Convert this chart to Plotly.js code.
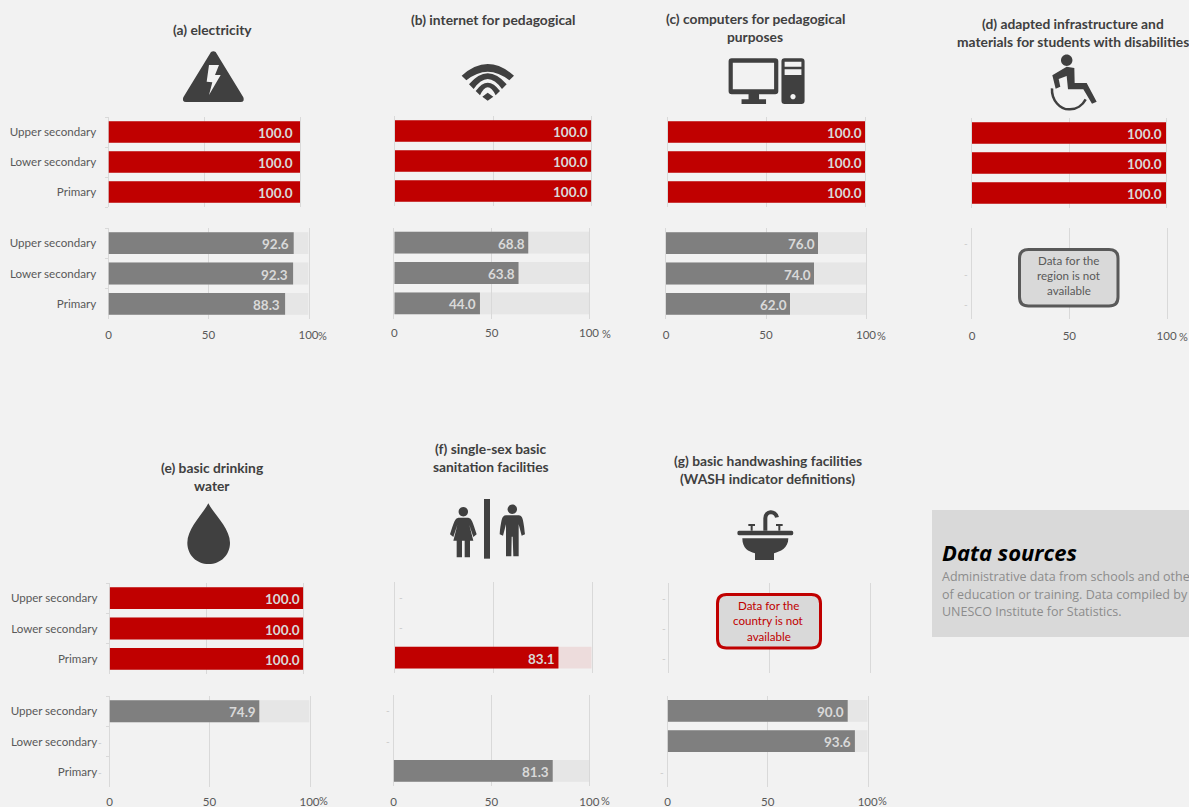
<!DOCTYPE html>
<html>
<head>
<meta charset="utf-8">
<script src="https://cdn.plot.ly/plotly-3.0.1.min.js"></script>
<style>html,body{margin:0;padding:0;background:#f2f2f2;overflow:hidden}#chart{width:1189px;height:807px}</style>
</head>
<body>
<div id="chart"></div>
<script>
const levels = ['Primary', 'Lower secondary', 'Upper secondary'];
const xTicks = [0, 50, 100];

const electricityCountry = [100, 100, 100];
const electricityRegion = [88.3, 92.3, 92.6];
const internetCountry = [100, 100, 100];
const internetRegion = [44.0, 63.8, 68.8];
const computersCountry = [100, 100, 100];
const computersRegion = [62.0, 74.0, 76.0];
const adaptedCountry = [100, 100, 100];
const adaptedRegion = [null, null, null];
const waterCountry = [100, 100, 100];
const waterRegion = [null, null, 74.9];
const sanitationCountry = [83.1, null, null];
const sanitationRegion = [81.3, null, null];
const handwashingCountry = [null, null, null];
const handwashingRegion = [null, 93.6, 90.0];

const titleA = ['(a) electricity'];
const titleB = ['(b) internet for pedagogical'];
const titleC = ['(c) computers for pedagogical', 'purposes'];
const titleD = ['(d) adapted infrastructure and', 'materials for students with disabilities'];
const titleE = ['(e) basic drinking', 'water'];
const titleF = ['(f) single-sex basic', 'sanitation facilities'];
const titleG = ['(g) basic handwashing facilities', '(WASH indicator definitions)'];
const noRegion = ['Data for the', 'region is not', 'available'];
const noCountry = ['Data for the', 'country is not', 'available'];
const sourcesHead = 'Data sources';
const sourcesBody = ['Administrative data from schools and other', 'of education or training. Data compiled by', 'UNESCO Institute for Statistics.'];

const W = 1189, H = 807;
const RED = '#c00000', GREY = '#7f7f7f', DARK = '#404040', GRID = '#d9d9d9', TXT = '#595959';
const FONT = 'Lato, sans-serif';

const panels = [
  {v: electricityCountry, c: RED, x: [108.5, 300], y: [117, 207], labels: true, shift: -7},
  {v: electricityRegion, c: GREY, x: [108.5, 308.5], y: [228, 319], labels: true, axis: true, std: 7, pct: [322, 335], shift: -5},
  {v: internetCountry, c: RED, x: [395, 591.3], y: [116, 206]},
  {v: internetRegion, c: GREY, x: [394.3, 589], y: [227.5, 318.5], axis: true, std: 6, pct: [606, 333]},
  {v: computersCountry, c: RED, x: [668, 865], y: [117, 207]},
  {v: computersRegion, c: GREY, x: [666, 866], y: [228, 319], axis: true, std: 7, pct: [881, 335]},
  {v: adaptedCountry, c: RED, x: [972, 1166], y: [118, 208], shift: -4.5},
  {v: adaptedRegion, c: GREY, x: [972, 1166.6], y: [228, 319], axis: true, std: 8, pct: [1183, 336], dashes: [[0, -6], [1, -6], [2, -6]]},
  {v: waterCountry, c: RED, x: [109.7, 303.3], y: [583, 674], labels: true},
  {v: waterRegion, c: GREY, x: [109.5, 309.5], y: [696, 787.3], labels: true, axis: true, std: 6, pct: [323, 800.5], dashes: [[0, -10], [1, -10]]},
  {v: sanitationCountry, c: RED, bg: 'rgba(192,0,0,0.09)', x: [395, 591.7], y: [582, 672.7], dashes: [[1, 6], [2, 6]]},
  {v: sanitationRegion, c: GREY, x: [393.7, 589.3], y: [695, 786], axis: true, std: 7, pct: [605, 800.5], dashes: [[1, -6], [2, -6]]},
  {v: handwashingCountry, c: RED, x: [669.3, 870], y: [582.7, 673.3], dashes: [[0, -5], [1, -5], [2, -5]]},
  {v: handwashingRegion, c: GREY, x: [667.7, 867.7], y: [695.7, 786.7], axis: true, std: 7, pct: [882, 800.5], dashes: [[0, -6]]}
];

// page-pixel overlay axes, used for titles, pictograms and note boxes
const PX = 15;
const data = [{type: 'scatter', x: [], y: [], xaxis: 'x' + PX, yaxis: 'y' + PX, showlegend: false, hoverinfo: 'skip'}];
const layout = {
  width: W, height: H, margin: {l: 0, r: 0, t: 0, b: 0},
  paper_bgcolor: '#f2f2f2', plot_bgcolor: 'rgba(0,0,0,0)',
  barmode: 'overlay', bargap: 0.28, showlegend: false,
  font: {family: FONT, color: TXT},
  annotations: [], shapes: [],
  ['xaxis' + PX]: {domain: [0, 1], range: [0, W], visible: false, anchor: 'y' + PX, fixedrange: true},
  ['yaxis' + PX]: {domain: [0, 1], range: [H, 0], visible: false, anchor: 'x' + PX, fixedrange: true}
};

panels.forEach((p, i) => {
  const n = i + 1, xa = 'x' + n, ya = 'y' + n;
  const present = p.v.map(v => (v === null ? null : 100));
  data.push({type: 'bar', orientation: 'h', y: levels, x: present, xaxis: xa, yaxis: ya,
    marker: {color: p.bg || 'rgba(217,217,217,0.5)'}, hoverinfo: 'skip'});
  data.push({type: 'bar', orientation: 'h', y: levels, x: p.v, xaxis: xa, yaxis: ya,
    marker: {color: p.c}, hoverinfo: 'skip'});
  layout['xaxis' + n] = {
    domain: [p.x[0] / W, p.x[1] / W], range: [0, 100], anchor: ya, fixedrange: true,
    tickmode: 'array', tickvals: xTicks, ticktext: xTicks.map(String),
    showgrid: true, gridcolor: GRID, gridwidth: 1, zeroline: false, showline: false, ticks: '',
    showticklabels: !!p.axis, ticklabelstandoff: p.std || 0,
    tickfont: {family: FONT, size: 11.5, color: TXT}
  };
  layout['yaxis' + n] = {
    domain: [1 - p.y[1] / H, 1 - p.y[0] / H], range: [-0.5, 2.5], anchor: xa, fixedrange: true,
    type: 'category', categoryorder: 'array', categoryarray: levels,
    showgrid: false, zeroline: false, layer: 'below traces',
    showline: true, mirror: true, linecolor: GRID, linewidth: 1,
    ticks: p.labels ? 'outside' : '', tickson: 'boundaries', ticklen: 3, tickcolor: GRID, tickwidth: 1,
    showticklabels: !!p.labels, ticklabelstandoff: 9,
    tickfont: {family: FONT, size: 11.6, color: TXT}
  };
  p.v.forEach((v, k) => {
    if (v === null) return;
    layout.annotations.push({xref: xa, yref: ya, x: v, y: levels[k], text: v.toFixed(1),
      xanchor: 'right', yanchor: 'middle', xshift: (p.shift || -3.5) + 2, yshift: -1, showarrow: false,
      font: {family: FONT, size: 13.5, color: '#d9d9d9', weight: 700}});
  });
  (p.dashes || []).forEach(d => {
    layout.annotations.push({xref: xa, yref: ya, x: 0, y: levels[d[0]], text: '-',
      xanchor: 'center', yanchor: 'middle', xshift: d[1], showarrow: false,
      font: {family: FONT, size: 10, color: '#c8c8c8'}});
  });
  if (p.pct) pageText('%', p.pct[0], p.pct[1], {size: 11, color: TXT});
});

function pageText(t, x, y, f, anchor) {
  layout.annotations.push({xref: 'x' + PX, yref: 'y' + PX, x: x, y: y, text: t,
    xanchor: anchor || 'center', yanchor: 'middle', showarrow: false, borderpad: 0, borderwidth: 0,
    font: Object.assign({family: FONT}, f)});
}
function lines(arr, x, ys, f) { arr.forEach((t, i) => pageText(t, x, ys[i], f)); }

const titleFont = {size: 13.8, color: DARK, weight: 700};
lines(titleA, 212.5, [29.5], titleFont);
lines(titleB, 493, [19.5], titleFont);
lines(titleC, 755, [18, 36], titleFont);
lines(titleD, 1072.5, [23, 41], titleFont);
lines(titleE, 212, [467, 485], titleFont);
lines(titleF, 491, [448, 466], titleFont);
lines(titleG, 767.5, [460, 478], titleFont);

// pictograms: path points written in a local grid, mapped to page pixels
function icon(ox, oy, sx, sy, d) {
  const pts = d.trim().split(/\s+/);
  let isX = true;
  return pts.map(t => {
    if (/^[A-Za-z]$/.test(t)) { isX = true; return t; }
    const v = isX ? ox + parseFloat(t) / sx : oy + parseFloat(t) / sy;
    isX = !isX;
    return v.toFixed(2);
  }).join(' ');
}
function circle(cx, cy, r) {
  const k = 0.5523 * r;
  return `M ${cx - r} ${cy} C ${cx - r} ${cy - k} ${cx - k} ${cy - r} ${cx} ${cy - r} C ${cx + k} ${cy - r} ${cx + r} ${cy - k} ${cx + r} ${cy} C ${cx + r} ${cy + k} ${cx + k} ${cy + r} ${cx} ${cy + r} C ${cx - k} ${cy + r} ${cx - r} ${cy + k} ${cx - r} ${cy} Z`;
}
function addPath(d, fill, line, lw) {
  layout.shapes.push({type: 'path', xref: 'x' + PX, yref: 'y' + PX, path: d, layer: 'above',
    fillcolor: fill || 'rgba(0,0,0,0)', line: {color: line || 'rgba(0,0,0,0)', width: lw || 0}});
}
// lightning triangle
addPath(icon(150, 40, 3, 3, 'M 183 36 Q 190 31 197 36 L 280 172 Q 285 186 272 186 L 108 186 Q 95 186 100 172 Z M 177 75 L 207 75 L 195 105 L 212 105 L 177 165 L 187 127 L 170 125 Z'), DARK);
// wifi
addPath(icon(455, 55, 3, 3,
  'M 20 62 Q 98 -8 177 62 L 163 76 Q 98 24 34 76 Z ' +
  'M 42 88 Q 98 22 155 88 L 141 102 Q 98 42 56 102 Z ' +
  'M 62 108 Q 98 58 135 108 L 122 121 Q 98 73 75 121 Z ' +
  'M 98 113 L 115 125 L 98 137 L 82 125 Z'), DARK);
// computer
addPath(icon(640, 0, 2.856, 3,
  'M 262 175 L 386 175 Q 395 175 395 184 L 395 274 Q 395 283 386 283 L 340 283 L 340 298 L 360 298 L 360 312 L 290 312 L 290 298 L 310 298 L 310 283 L 262 283 Q 253 283 253 274 L 253 184 Q 253 175 262 175 Z ' +
  'M 265 188 L 265 268 L 383 268 L 383 188 Z'), DARK);
addPath(icon(640, 0, 2.856, 3,
  'M 413 175 L 461 175 Q 470 175 470 184 L 470 303 Q 470 312 461 312 L 413 312 Q 404 312 404 303 L 404 184 Q 404 175 413 175 Z ' +
  'M 413 185 L 413 200 L 461 200 L 461 185 Z M 413 208 L 413 225 L 461 225 L 461 208 Z'), DARK);
addPath(circle(793, 96.7, 2.6), '#f2f2f2');
// wheelchair
addPath(circle(1066.7, 60.3, 5.7), DARK);
addPath(icon(1040, 50, 3, 3, 'M 37 76 L 80 50 L 103 54 L 104 99 L 140 99 L 170 155 L 156 161 L 130 118 L 84 118 L 80 78 L 56 87 L 61 110 L 47 116 Z'), DARK);
addPath(icon(1040, 50, 3, 3, 'M 36 115 C 34 150 60 180 90 178 C 110 178 128 165 137 148'), null, DARK, 2.5);
// drop
addPath(icon(175, 495, 3, 3, 'M 100 25 C 85 55 37 100 37 143 C 37 180 65 207 101 207 C 137 207 165 180 165 143 C 165 100 115 55 100 25 Z'), DARK);
// restroom
addPath(icon(440, 495, 3, 3, 'M 132 12 L 150 12 L 150 191 L 132 191 Z'), DARK);
addPath(circle(463.3, 511.7, 4.7), DARK);
addPath(icon(440, 495, 3, 3, 'M 55 68 L 85 68 C 95 70 98 80 110 118 L 100 126 L 88 90 L 100 137 L 90 137 L 90 187 L 74 187 L 74 137 L 66 137 L 66 187 L 50 187 L 50 137 L 40 137 L 52 90 L 40 126 L 30 118 C 42 80 45 70 55 68 Z'), DARK);
addPath(circle(512.3, 509.3, 4.7), DARK);
addPath(icon(440, 495, 3, 3, 'M 197 61 L 237 61 C 247 63 250 70 255 118 L 245 122 L 236 88 L 236 184 L 220 184 L 218 125 L 215 125 L 214 184 L 198 184 L 198 88 L 189 122 L 179 118 C 184 70 187 63 197 61 Z'), DARK);
// sink
addPath(icon(730, 500, 3, 3,
  'M 27 92 L 185 92 Q 190 92 190 99 Q 190 106 185 106 L 27 106 Q 22 106 22 99 Q 22 92 27 92 Z ' +
  'M 37 115 L 175 115 C 175 145 150 155 132 160 L 132 180 L 75 180 L 75 160 C 55 155 37 145 37 115 Z'), DARK);
addPath(icon(730, 500, 3, 3, 'M 106 92 L 106 55 C 106 32 136 30 141 52'), null, DARK, 4);
addPath(icon(730, 500, 3, 3, 'M 55 72 L 75 72 L 75 78 L 68 78 L 68 92 L 62 92 L 62 78 L 55 78 Z M 138 72 L 158 72 L 158 78 L 151 78 L 151 92 L 145 92 L 145 78 L 138 78 Z'), DARK);

// note boxes
function roundBox(x0, y0, x1, y1, r, line) {
  const d = `M ${x0 + r} ${y0} L ${x1 - r} ${y0} Q ${x1} ${y0} ${x1} ${y0 + r} L ${x1} ${y1 - r} Q ${x1} ${y1} ${x1 - r} ${y1} L ${x0 + r} ${y1} Q ${x0} ${y1} ${x0} ${y1 - r} L ${x0} ${y0 + r} Q ${x0} ${y0} ${x0 + r} ${y0} Z`;
  addPath(d, '#d9d9d9', line, 3);
}
roundBox(1019.5, 249.5, 1118, 306, 9, TXT);
lines(noRegion, 1068.5, [260.5, 275.5, 290.5], {size: 11.6, color: TXT});
roundBox(717.5, 594.5, 820.5, 648, 9, RED);
lines(noCountry, 768.5, [605.5, 620.5, 636.5], {size: 11.6, color: RED});

// data sources box
layout.shapes.push({type: 'rect', xref: 'x' + PX, yref: 'y' + PX, x0: 932, x1: 1189, y0: 510, y1: 637,
  fillcolor: '#d9d9d9', line: {width: 0}, layer: 'below'});
pageText(sourcesHead, 941.5, 552, {size: 22, color: '#000000', weight: 700, style: 'italic', family: '"Open Sans", sans-serif'}, 'left');
sourcesBody.forEach((t, i) => pageText(t, 941.5, [576, 594, 611][i], {size: 12.5, color: '#8c8c8c', family: '"Open Sans", sans-serif'}, 'left'));

Plotly.newPlot('chart', data, layout, {displayModeBar: false, staticPlot: true});
</script>
</body>
</html>
